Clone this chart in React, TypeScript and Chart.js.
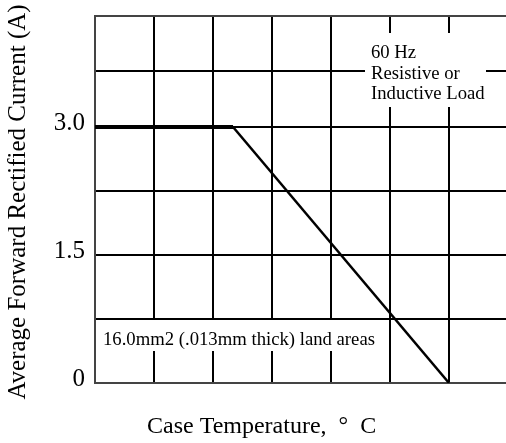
import React, { useEffect, useRef } from "react";
import { Chart, registerables } from "chart.js";

Chart.register(...registerables);

// Data
const flatX = [0, 2.34];
const flatY = [3.0, 3.0];
const slopeX = [2.34, 6.0];
const slopeY = [3.0, 0];
const yGridValues = [0, 0.75, 1.5, 2.25, 3.0, 3.65, 4.3];
const yTickLabels: Record<string, string> = { "0": "0", "1.5": "1.5", "3": "3.0" };
const xTitle = "Case Temperature,  \u00B0  C";
const yTitle = "Average Forward Rectified Current (A)";
const noteTop = ["60 Hz", "Resistive or", "Inductive Load"];
const noteBottom = "16.0mm2 (.013mm thick) land areas";

const FONT = "'Liberation Serif', 'Times New Roman', serif";

export default function App() {
  const ref = useRef<HTMLCanvasElement | null>(null);
  useEffect(() => {
    const canvas = ref.current!;
    const notes = {
      id: "notes",
      beforeDatasetsDraw(chart: any) {
        const ctx = chart.ctx;
        const a = chart.chartArea;
        ctx.save();
        ctx.fillStyle = "#fff";
        ctx.fillRect(a.left + 270, a.top + 17, 121, 74);
        ctx.fillRect(a.left + 2, a.top + 304, 281, 31);
        ctx.fillStyle = "#000";
        ctx.font = `18.7px ${FONT}`;
        ctx.textBaseline = "alphabetic";
        ctx.textAlign = "left";
        noteTop.forEach((t, i) => ctx.fillText(t, a.left + 276, a.top + 42 + i * 20.5));
        ctx.fillText(noteBottom, a.left + 8, a.top + 329);
        ctx.restore();
      },
      afterDraw(chart: any) {
        const ctx = chart.ctx;
        const a = chart.chartArea;
        ctx.save();
        ctx.fillStyle = "#000";
        ctx.font = `24px ${FONT}`;
        ctx.textAlign = "left";
        ctx.textBaseline = "alphabetic";
        ctx.fillText(xTitle, a.left + 52, a.bottom + 50);
        ctx.font = `25px ${FONT}`;
        ctx.textAlign = "center";
        ctx.translate(25, a.top + 186);
        ctx.rotate(-Math.PI / 2);
        ctx.fillText(yTitle, 0, 0);
        ctx.restore();
      },
    };
    const chart = new Chart(canvas, {
      type: "line",
      data: {
        datasets: [
          {
            data: flatX.map((x, i) => ({ x, y: flatY[i] })),
            borderColor: "#000",
            borderWidth: 4,
            pointRadius: 0,
            fill: false,
          },
          {
            data: slopeX.map((x, i) => ({ x, y: slopeY[i] })),
            borderColor: "#000",
            borderWidth: 2.5,
            pointRadius: 0,
            fill: false,
          },
        ],
      },
      options: {
        animation: false,
        responsive: false,
        devicePixelRatio: 1,
        layout: { padding: { left: 0, top: 16, right: 12, bottom: 0 } },
        plugins: { legend: { display: false }, tooltip: { enabled: false } },
        scales: {
          x: {
            type: "linear",
            min: 0,
            max: 7,
            ticks: { display: false, stepSize: 1 },
            grid: {
              color: (c: any) => (c.tick && c.tick.value === 0 ? "#444" : "#000"),
              lineWidth: 2,
              drawTicks: false,
            },
            border: { display: false },
            afterFit: (s: any) => {
              s.height = 60;
              s.paddingLeft = 0;
              s.paddingRight = 0;
            },
          },
          y: {
            type: "linear",
            min: 0,
            max: 4.3,
            afterBuildTicks: (s: any) => {
              s.ticks = yGridValues.map((v) => ({ value: v }));
            },
            ticks: {
              padding: 10,
              labelOffset: -4,
              color: "#000",
              font: { family: FONT, size: 25 },
              callback: (v: any) => yTickLabels[String(v)] ?? "",
              autoSkip: false,
            },
            grid: {
              color: (c: any) =>
                c.tick && (c.tick.value === 4.3 || c.tick.value === 0) ? "#444" : "#000",
              lineWidth: 2,
              drawTicks: false,
            },
            border: { display: true, color: "#444", width: 2 },
            afterFit: (s: any) => {
              s.width = 95;
              s.paddingTop = 0;
              s.paddingBottom = 0;
            },
          },
        },
      },
      plugins: [notes],
    } as any);
    return () => chart.destroy();
  }, []);
  return (
    <div
      style={{
        position: "absolute",
        left: 0,
        top: 0,
        width: 506,
        height: 443,
        overflow: "hidden",
        background: "#fff",
      }}
    >
      <canvas ref={ref} width={520} height={443} style={{ width: 520, height: 443 }} />
    </div>
  );
}
